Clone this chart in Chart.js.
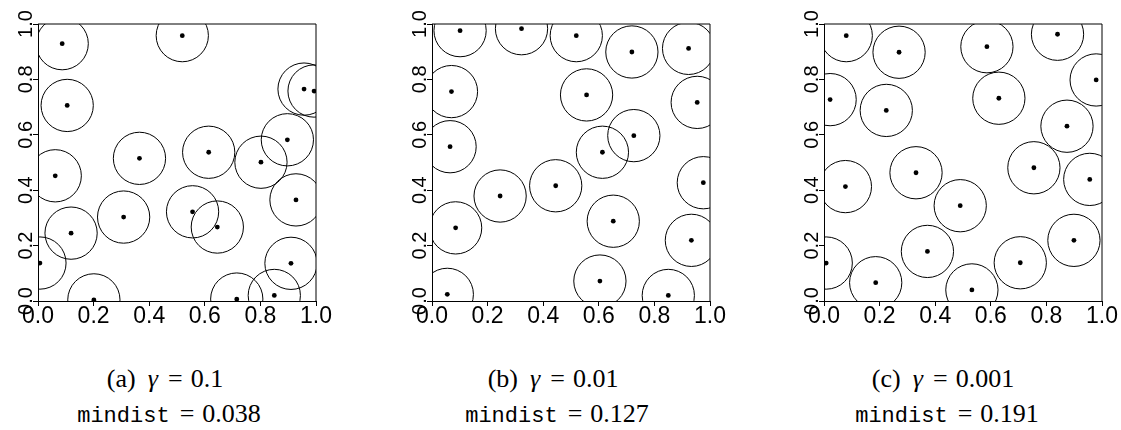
<!DOCTYPE html>
<html>
<head>
<meta charset="utf-8">
<script src="https://cdn.jsdelivr.net/npm/chart.js@4"></script>
<style>
body { margin: 0; background: #fff; width: 1121px; height: 430px; position: relative; overflow: hidden; }
canvas { position: absolute; top: 0; }
.cap { position: absolute; width: 320px; text-align: center; color: #000; white-space: nowrap;
       font-family: 'Liberation Serif', serif; font-size: 26px; line-height: 28px; }
.tt { font-family: 'Liberation Mono', monospace; font-size: 22px; }
.eq { margin: 0 8px 0 10px; }
.gam { margin-left: 12px; }
</style>
</head>
<body>
<canvas id="panelA" width="345" height="330" style="left:0px"></canvas>
<canvas id="panelB" width="345" height="330" style="left:394px"></canvas>
<canvas id="panelC" width="335" height="330" style="left:786px"></canvas>
<script>
// points of panel (a), gamma = 0.1
const xA = [0.087, 0.519, 0.105, 0.062, 0.365, 0.119, 0.308, 0.007, 0.201, 0.556,
            0.957, 0.993, 0.897, 0.614, 0.802, 0.928, 0.645, 0.910, 0.715, 0.850]
const yA = [0.929, 0.958, 0.706, 0.452, 0.515, 0.245, 0.303, 0.137, 0.004, 0.322,
            0.765, 0.758, 0.582, 0.537, 0.501, 0.365, 0.267, 0.136, 0.007, 0.020]

// points of panel (b), gamma = 0.01
const xB = [0.101, 0.322, 0.070, 0.065, 0.245, 0.085, 0.055, 0.519, 0.719, 0.923,
            0.556, 0.954, 0.726, 0.613, 0.445, 0.976, 0.652, 0.933, 0.604, 0.850]
const yB = [0.976, 0.983, 0.756, 0.557, 0.379, 0.264, 0.024, 0.958, 0.899, 0.912,
            0.744, 0.717, 0.597, 0.537, 0.416, 0.427, 0.288, 0.219, 0.072, 0.020]

// points of panel (c), gamma = 0.001
const xC = [0.080, 0.270, 0.022, 0.224, 0.331, 0.077, 0.372, 0.008, 0.186, 0.586,
            0.840, 0.979, 0.629, 0.874, 0.755, 0.956, 0.490, 0.899, 0.706, 0.532]
const yC = [0.958, 0.898, 0.727, 0.688, 0.463, 0.413, 0.179, 0.137, 0.066, 0.918,
            0.963, 0.798, 0.732, 0.631, 0.481, 0.439, 0.344, 0.219, 0.138, 0.040]

// radius of the circle drawn round every point, in data units
const circleRadius = 0.094

const tickValues = [0, 0.2, 0.4, 0.6, 0.8, 1.0]
const tickLabels = ['0.0', '0.2', '0.4', '0.6', '0.8', '1.0']

const panelLetters = ['a', 'b', 'c']
const gammaValues = ['0.1', '0.01', '0.001']
const mindistValues = ['0.038', '0.127', '0.191']

const tickFont = "'Liberation Sans', Arial, sans-serif"

// draws the top and right side of the box
const boxPlugin = {
     id: 'box',
     afterDatasetsDraw(chart) {
          const a = chart.chartArea
          const c = chart.ctx
          c.save()
          c.strokeStyle = '#000'
          c.lineWidth = 1
          c.beginPath()
          c.moveTo(a.left, a.top)
          c.lineTo(a.right, a.top)
          c.lineTo(a.right, a.bottom)
          c.stroke()
          c.restore()
     }
}

function makePanel(id, xs, ys, padRight) {
     const points = xs.map((x, i) => ({ x: x, y: ys[i] }))
     new Chart(document.getElementById(id), {
          type: 'scatter',
          data: {
               datasets: [{
                    // the circles, radius taken through the x scale
                    data: points,
                    pointRadius: ctx => {
                         const s = ctx.chart.scales.x
                         return s.getPixelForValue(circleRadius) - s.getPixelForValue(0)
                    },
                    pointBackgroundColor: 'rgba(0,0,0,0)',
                    pointBorderColor: '#000',
                    pointBorderWidth: 1,
                    clip: 0
               }, {
                    // the dots
                    data: points,
                    pointRadius: 2.4,
                    pointBackgroundColor: '#000',
                    pointBorderWidth: 0,
                    clip: 0
               }]
          },
          options: {
               responsive: false,
               animation: false,
               events: [],
               layout: { padding: { top: 24, right: padRight, left: 0, bottom: 0 } },
               plugins: { legend: { display: false }, tooltip: { enabled: false } },
               scales: {
                    x: {
                         type: 'linear', min: 0, max: 1,
                         afterBuildTicks: s => { s.ticks = tickValues.map(v => ({ value: v })) },
                         afterFit: s => { s.height = 29 },
                         ticks: {
                              autoSkip: false, maxRotation: 0, padding: -3, color: '#000',
                              font: { family: tickFont, size: 23 },
                              callback: (v, i) => tickLabels[i]
                         },
                         grid: { drawOnChartArea: false, tickLength: 5, color: '#000' },
                         border: { color: '#000' }
                    },
                    y: {
                         type: 'linear', min: 0, max: 1,
                         afterBuildTicks: s => { s.ticks = tickValues.map(v => ({ value: v })) },
                         afterFit: s => { s.width = 38 },
                         ticks: {
                              autoSkip: false, minRotation: 90, maxRotation: 90, crossAlign: 'center',
                              padding: -7, color: '#000',
                              font: { family: tickFont, size: 20 },
                              callback: (v, i) => tickLabels[i]
                         },
                         grid: { drawOnChartArea: false, tickLength: 5, color: '#000' },
                         border: { color: '#000' }
                    }
               }
          },
          plugins: [boxPlugin]
     })
}

makePanel('panelA', xA, yA, 29)
makePanel('panelB', xB, yB, 29)
makePanel('panelC', xC, yC, 19)

// captions under the panels
const captionCenters = [165, 553, 943]
captionCenters.forEach((cx, i) => {
     const line1 = document.createElement('div')
     line1.className = 'cap'
     line1.style.left = (cx - 160) + 'px'
     line1.style.top = '365px'
     line1.innerHTML = '(' + panelLetters[i] + ')<i class="gam">γ</i><span class="eq">=</span>' + gammaValues[i]
     document.body.appendChild(line1)

     const line2 = document.createElement('div')
     line2.className = 'cap'
     line2.style.left = (cx - 160 + 4) + 'px'
     line2.style.top = '400px'
     line2.innerHTML = '<span class="tt">mindist</span><span class="eq">=</span>' + mindistValues[i]
     document.body.appendChild(line2)
})
</script>
</body>
</html>
